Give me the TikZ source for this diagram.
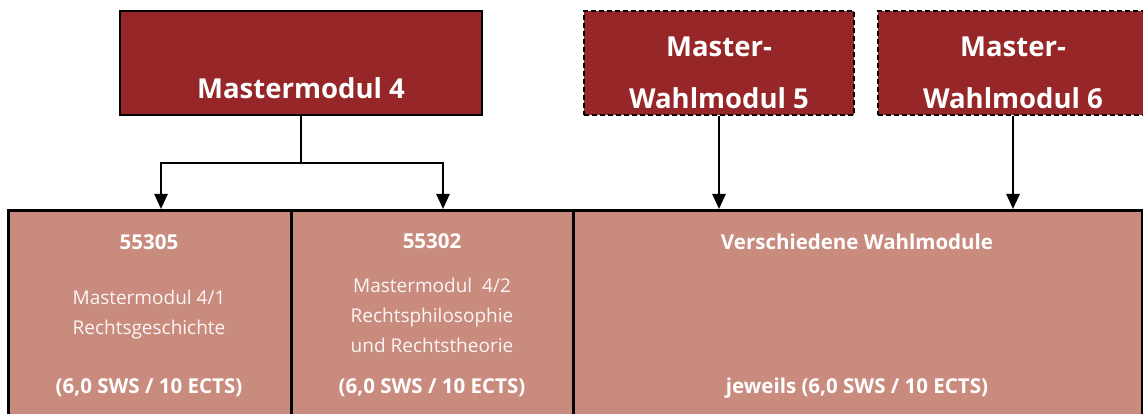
\documentclass[tikz,border=0pt]{standalone}
\usepackage{fontspec}
\setmainfont{Open Sans}
\usetikzlibrary{arrows.meta, positioning}
\definecolor{modred}{HTML}{962628}
\definecolor{modrose}{HTML}{C98B7E}
\tikzset{%
  topbox/.style={draw=black, line width=2.4pt, fill=modred, inner sep=0pt,
                 minimum height=104pt},
  wahlbox/.style={topbox, line width=2.2pt, dash pattern=on 5pt off 3pt},
  subbox/.style={draw=black, line width=3pt, fill=modrose, inner sep=0pt,
                 minimum height=212pt, anchor=north west},
  toptext/.style={text=white, font=\bfseries\fontsize{27.5}{30}\selectfont, inner sep=0pt},
  headtext/.style={text=white, font=\bfseries\fontsize{20.5}{24}\selectfont, inner sep=0pt},
  bodytext/.style={text=white!92!modrose, font=\fontsize{19}{30}\selectfont, inner sep=0pt, align=center},
  conn/.style={line width=2.5pt},
  arr/.style={conn, -{Triangle[width=13pt,length=15pt]}},
}

\begin{document}
\begin{tikzpicture}[x=1pt,y=-1pt]
    \useasboundingbox (0,0) rectangle (1143,414);

    % lower boxes
    \node[subbox, minimum width=283pt] (b1) at (7,209) {};
    \node[subbox, minimum width=283pt] (b2) at (290,209) {};
    \node[subbox, minimum width=569pt] (b3) at (572,209) {};

    % upper boxes
    \node[topbox, minimum width=362pt] (mm4) at (301,63) {};
    \node[wahlbox, minimum width=270pt] (wm5) at (719,63) {};
    \node[wahlbox, minimum width=270pt] (wm6) at (1013,63) {};

    \node[toptext] (mm4t) at (301,88) {Mastermodul 4};
    \node[toptext] (wm5a) at (719,47) {Master-};
    \node[toptext] (wm5b) at (719,98) {Wahlmodul 5};
    \node[toptext] (wm6a) at (1013,47) {Master-};
    \node[toptext] (wm6b) at (1013,98) {Wahlmodul 6};

    % texts of the lower boxes
    \node[headtext] (b1h) at (149,242) {55305};
    \node[bodytext] (b1t) at (149,315) {Mastermodul 4/1\\Rechtsgeschichte};
    \node[headtext] (b1f) at (149,388) {(6,0 SWS / 10 ECTS)};

    \node[headtext] (b2h) at (432,241) {55302};
    \node[bodytext] (b2t) at (432,315) {Mastermodul\ \ 4/2\\Rechtsphilosophie\\und Rechtstheorie};
    \node[headtext] (b2f) at (432,388) {(6,0 SWS / 10 ECTS)};

    \node[headtext] (b3h) at (857,242) {Verschiedene Wahlmodule};
    \node[headtext] (b3f) at (857,388) {jeweils (6,0 SWS / 10 ECTS)};

    % connectors
    \coordinate (split) at (301,163);
    \coordinate (l) at (161,163);
    \coordinate (r) at (443,163);
    \draw[conn] (mm4.south) -- (split);
    \draw[arr] (split) -| (b1.north -| l);
    \draw[arr] (split) -| (b2.north -| r);
    \draw[arr] (wm5.south) -- (wm5.south |- b3.north);
    \draw[arr] (wm6.south) -- (wm6.south |- b3.north);
\end{tikzpicture}
\end{document}
